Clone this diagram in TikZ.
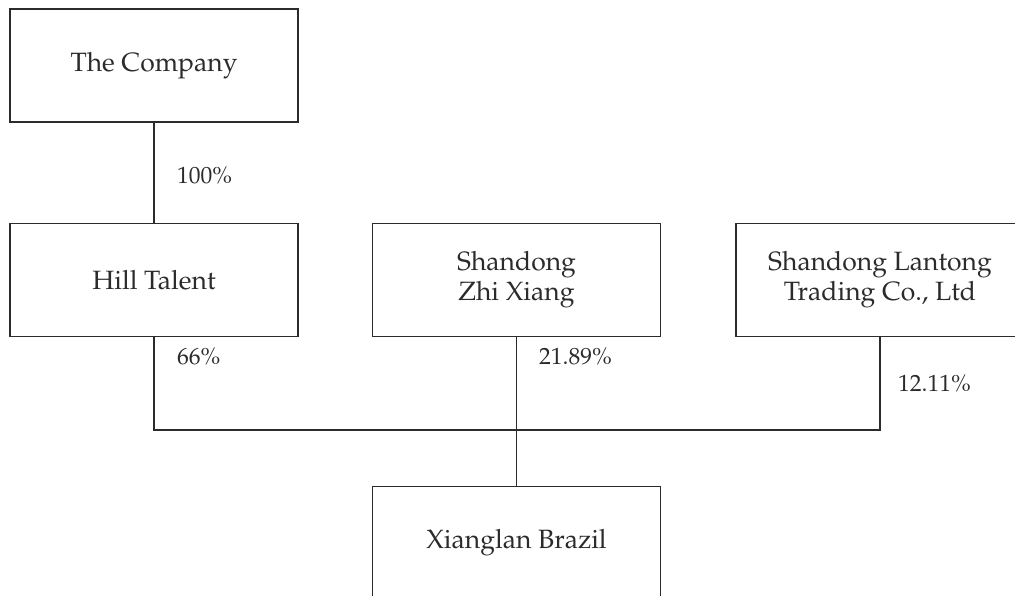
\documentclass[tikz,border=0pt]{standalone}
\usepackage[T1]{fontenc}
\usepackage{mathpazo}
\usetikzlibrary{positioning}

\definecolor{ink}{HTML}{2B2B2B}

\tikzset{
  owner/.style={draw=ink, line width=1.4pt, text=ink, minimum width=288pt, minimum height=113pt,
    align=center, inner sep=0pt, font=\fontsize{26.5}{30}\selectfont},
  share/.style={anchor=west, text=ink, inner sep=0pt, font=\fontsize{23.5}{27}\selectfont},
  link/.style={draw=ink, line width=1.4pt}
}

\begin{document}
\begin{tikzpicture}[x=1pt, y=-1pt]
  \useasboundingbox (0,0) rectangle (1015,596);

  \node[owner] (company) at (154,65.5) {The Company};
  \node[owner] (hill) at (154,280) {Hill Talent};
  \node[owner] (zhi) at (516.5,280) {Shandong\\Zhi Xiang};
  \node[owner] (lantong) at (880,280) {Shandong Lantong\\Trading Co., Ltd};
  \node[owner] (brazil) at (516.5,543) {Xianglan Brazil};

  \coordinate (join) at (516.5,430);

  \draw[link] (company) -- (hill);
  \draw[link] (hill.south) |- (join) -| (lantong.south);
  \draw[link] (zhi) -- (brazil);

  \node[share] (p100) at (177,176) {100\%};
  \node[share] (p66) at (177,357) {66\%};
  \node[share] (p21) at (539,357) {21.89\%};
  \node[share] (p12) at (898,384) {12.11\%};
\end{tikzpicture}
\end{document}
